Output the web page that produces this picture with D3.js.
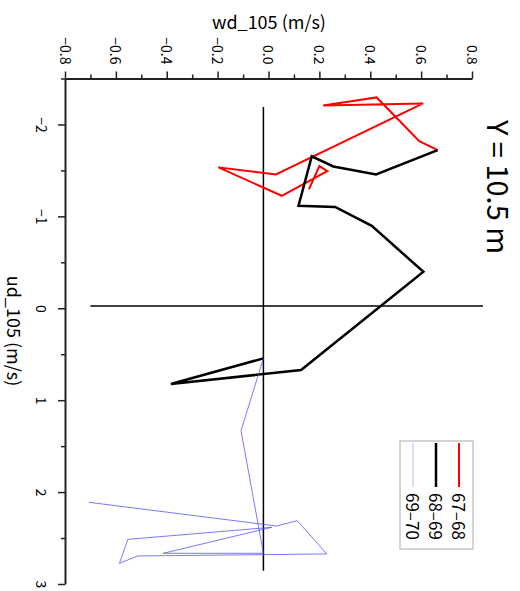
<!DOCTYPE html>
<html>
<head>
<meta charset="utf-8">
<script src="https://cdn.jsdelivr.net/npm/d3@7"></script>
<style>
  body { margin: 0; background: #fff; }
  text { font-family: "Noto Sans CJK JP", "DejaVu Sans", sans-serif; fill: #000; }
</style>
</head>
<body>
<div id="chart"></div>
<script>
// series, one pair of arrays per period (wd_105, ud_105)
const seriesNames = ['67–68', '68–69', '69–70'];
const wd6768 = [0.159, 0.200, 0.231, 0.052, -0.197, 0.029, 0.608, 0.215, 0.425, 0.593, 0.665];
const ud6768 = [-1.293, -1.547, -1.492, -1.224, -1.533, -1.456, -2.229, -2.207, -2.294, -1.819, -1.721];
const wd6869 = [0.665, 0.423, 0.255, 0.170, 0.118, 0.262, 0.406, 0.609, 0.128, -0.384, -0.020];
const ud6869 = [-1.721, -1.456, -1.543, -1.653, -1.116, -1.102, -0.897, -0.397, 0.672, 0.824, 0.545];
const wd6970 = [-0.020, -0.108, -0.020, -0.414, 0.013, -0.553, -0.586, -0.514, 0.229, 0.113, 0.032, -0.706];
const ud6970 = [0.545, 1.332, 2.666, 2.666, 2.383, 2.514, 2.775, 2.695, 2.673, 2.311, 2.369, 2.111];

// cross lines
const crossWd = [-0.020, -0.020];
const crossUd = [-2.19, 2.855];
const crossWd2 = [-0.70, 0.843];
const crossUd2 = [-0.024, -0.024];

const wdTicks = [-0.8, -0.6, -0.4, -0.2, 0.0, 0.2, 0.4, 0.6, 0.8];
const wdMinor = [-0.7, -0.5, -0.3, -0.1, 0.1, 0.3, 0.5, 0.7];
const udTicks = [-2, -1, 0, 1, 2, 3];
const udMinor = [-2.5, -1.5, -0.5, 0.5, 1.5, 2.5];

const width = 520, height = 591;
const colors = ['#ff0000', '#000000', '#4d4dff'];
const widths = [2, 2.5, 1];
const opac = [1, 1, 0.75];

const svg = d3.select('#chart').append('svg')
  .attr('width', width)
  .attr('height', height);

svg.append('rect').attr('width', width).attr('height', height).attr('fill', '#fff');

// chart is drawn turned a quarter turn: wd runs left->right, ud top->bottom
const x = d3.scaleLinear().domain([-0.8, 0.8]).range([65, 472]);
const y = d3.scaleLinear().domain([-2.5, 3]).range([78.5, 584]);

const zip = (a, b) => a.map((v, i) => [v, b[i]]);
const line = d3.line().x(d => x(d[0])).y(d => y(d[1]));

// cross lines
svg.append('path').datum(zip(crossWd, crossUd))
  .attr('d', line).attr('fill', 'none').attr('stroke', '#000').attr('stroke-width', 1.5);
svg.append('path').datum(zip(crossWd2, crossUd2))
  .attr('d', line).attr('fill', 'none').attr('stroke', '#000').attr('stroke-width', 1.5);

const series = [zip(wd6768, ud6768), zip(wd6869, ud6869), zip(wd6970, ud6970)];

svg.selectAll('.series')
  .data(series)
  .join('path')
  .attr('class', 'series')
  .attr('d', line)
  .attr('fill', 'none')
  .attr('stroke', (d, i) => colors[i])
  .attr('stroke-width', (d, i) => widths[i])
  .attr('stroke-opacity', (d, i) => opac[i])
  .attr('stroke-linejoin', 'miter');

// axes
const styleAxis = function (g)
{
  g.select('.domain').attr('stroke', '#222').attr('stroke-width', 2);
  g.selectAll('.tick line').attr('stroke', '#222').attr('stroke-width', 1.5);
};

const topAxis = svg.append('g')
  .attr('transform', `translate(0,${y(-2.5)})`)
  .call(d3.axisTop(x).tickValues(wdTicks).tickSize(7).tickSizeOuter(0).tickFormat(d3.format('.1f')))
  .call(styleAxis);
svg.append('g')
  .attr('transform', `translate(0,${y(-2.5)})`)
  .call(d3.axisTop(x).tickValues(wdMinor).tickSize(4).tickFormat(''))
  .call(styleAxis)
  .select('.domain').remove();

topAxis.selectAll('.tick text')
  .attr('x', 0).attr('y', 0).attr('dy', null)
  .attr('transform', 'translate(0,-14) rotate(90)')
  .attr('text-anchor', 'end')
  .attr('dominant-baseline', 'central')
  .attr('font-size', 14)
  .attr('font-family', null);

const leftAxis = svg.append('g')
  .attr('transform', `translate(${x(-0.8)},0)`)
  .call(d3.axisLeft(y).tickValues(udTicks).tickSize(7).tickSizeOuter(0).tickFormat(d3.format('d')))
  .call(styleAxis);
svg.append('g')
  .attr('transform', `translate(${x(-0.8)},0)`)
  .call(d3.axisLeft(y).tickValues(udMinor).tickSize(4).tickFormat(''))
  .call(styleAxis)
  .select('.domain').remove();

leftAxis.selectAll('.tick text')
  .attr('x', 0).attr('y', 0).attr('dy', null)
  .attr('transform', 'translate(-23,0) rotate(90)')
  .attr('text-anchor', 'middle')
  .attr('dominant-baseline', 'central')
  .attr('font-size', 14)
  .attr('font-family', null);

// axis titles
svg.append('text')
  .attr('x', 269).attr('y', 29)
  .attr('text-anchor', 'middle')
  .attr('font-size', 18)
  .text('wd_105 (m/s)');

svg.append('text')
  .attr('transform', 'translate(15,331) rotate(90)')
  .attr('text-anchor', 'middle')
  .attr('dominant-baseline', 'central')
  .attr('font-size', 18)
  .text('ud_105 (m/s)');

svg.append('text')
  .attr('transform', 'translate(500,187) rotate(90)')
  .attr('text-anchor', 'middle')
  .attr('dominant-baseline', 'central')
  .attr('font-size', 29)
  .text('Y = 10.5 m');

// legend
const legend = svg.append('g');
legend.append('rect')
  .attr('x', 400).attr('y', 441)
  .attr('width', 73).attr('height', 108)
  .attr('fill', '#fff').attr('stroke', '#aaa').attr('stroke-width', 1);

seriesNames.forEach((name, i) => {
  const lx = 459 - 23 * i;
  legend.append('line')
    .attr('x1', lx).attr('x2', lx)
    .attr('y1', 443).attr('y2', 487)
    .attr('stroke', colors[i])
    .attr('stroke-width', widths[i])
    .attr('stroke-opacity', i == 2 ? 0.4 : 1);
  legend.append('text')
    .attr('transform', `translate(${lx},493) rotate(90)`)
    .attr('text-anchor', 'start')
    .attr('dominant-baseline', 'central')
    .attr('font-size', 17)
    .text(name);
});
</script>
</body>
</html>
